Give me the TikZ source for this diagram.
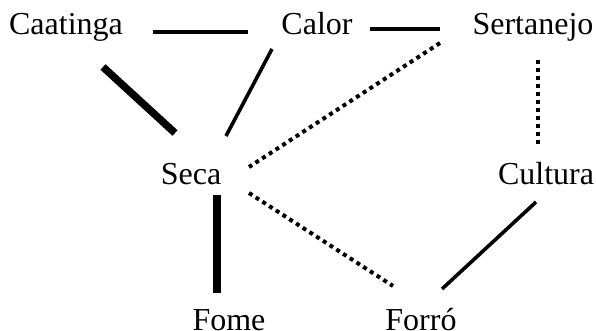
\documentclass[tikz,border=0pt]{standalone}
\usepackage{fontspec}
\setmainfont{Liberation Serif}
\begin{document}
\begin{tikzpicture}[x=1pt,y=-1pt,
  term/.style={inner sep=0pt, anchor=base, font=\fontsize{32}{36}\selectfont},
  plainlink/.style={line width=3.6pt},
  boldlink/.style={line width=7.5pt},
  dotlink/.style={line width=4pt, dash pattern=on 4pt off 4pt}]
\useasboundingbox (0,0) rectangle (596,331);

% words
\node[term] (caatinga)  at (66,35)   {Caatinga};
\node[term] (calor)     at (317,35)  {Calor};
\node[term] (sertanejo) at (533,35)  {Sertanejo};
\node[term] (seca)      at (191,184) {Seca};
\node[term] (cultura)   at (546,184) {Cultura};
\node[term] (fome)      at (229,330) {Fome};
\node[term] (forro)     at (421,330) {Forró};

% links between words
\draw[plainlink] ([shift={(87,-3)}]caatinga.base) -- ([shift={(-69,-3)}]calor.base);
\draw[plainlink] ([shift={(53,-6)}]calor.base) -- ([shift={(-93,-6)}]sertanejo.base);
\draw[boldlink]  ([shift={(37,32)}]caatinga.base) -- ([shift={(-16,-51)}]seca.base);
\draw[plainlink] ([shift={(-45,14)}]calor.base) -- ([shift={(35,-48)}]seca.base);
\draw[dotlink]   ([shift={(-93,8)}]sertanejo.base) -- ([shift={(58,-17)}]seca.base);
\draw[dotlink]   ([shift={(4.5,25)}]sertanejo.base) -- ([shift={(-8.5,-40)}]cultura.base);
\draw[dotlink]   ([shift={(58,9)}]seca.base) -- ([shift={(-28,-44)}]forro.base);
\draw[boldlink]  ([shift={(26,11)}]seca.base) -- ([shift={(-12,-37)}]fome.base);
\draw[plainlink] ([shift={(-10,18)}]cultura.base) -- ([shift={(21,-41)}]forro.base);
\end{tikzpicture}
\end{document}
